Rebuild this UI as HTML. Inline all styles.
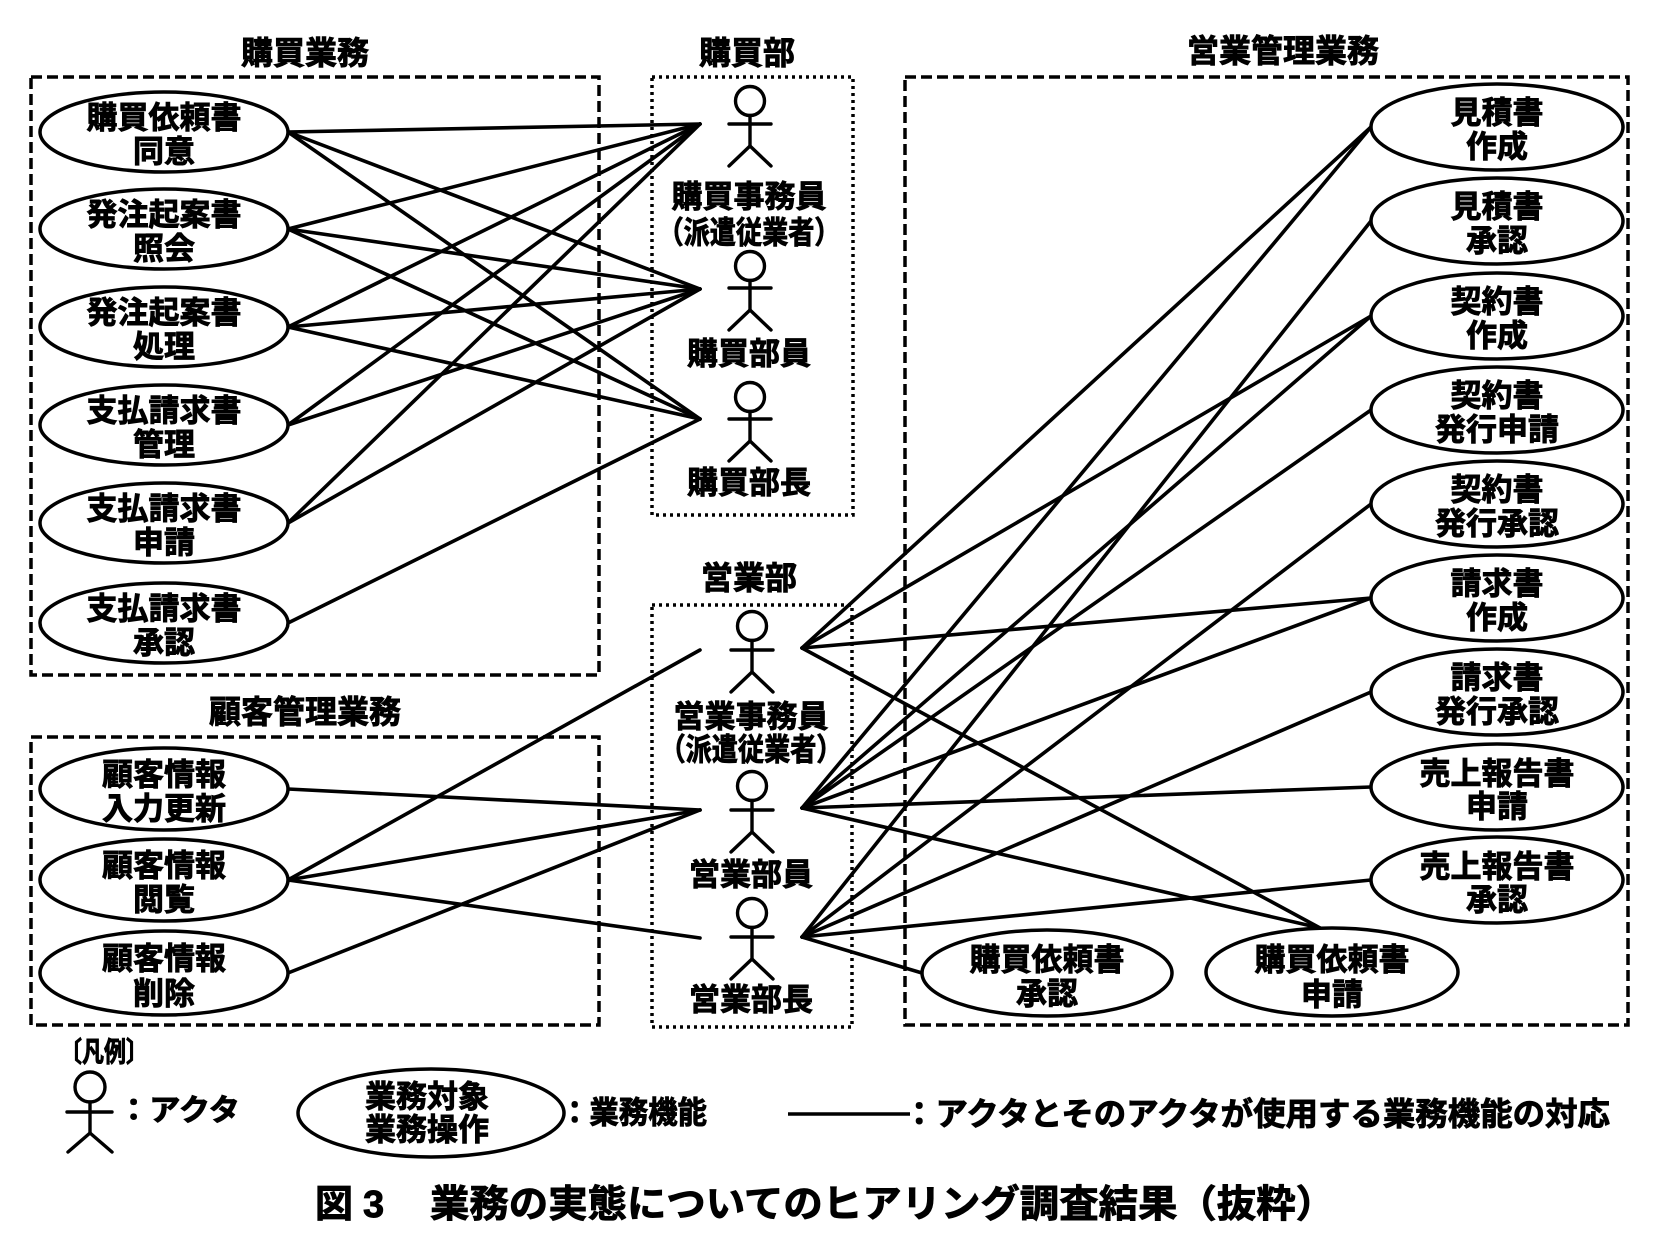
<!DOCTYPE html>
<html>
<head>
<meta charset="utf-8">
<style>
html,body{margin:0;padding:0;background:#fff;}
svg{display:block;}
text{font-family:"Liberation Sans","Noto Sans CJK JP",sans-serif;font-weight:700;fill:#000;stroke:#000;stroke-width:0.9;}
</style>
</head>
<body>
<svg width="1662" height="1260" viewBox="0 0 1662 1260" xmlns="http://www.w3.org/2000/svg">
<rect x="0" y="0" width="1662" height="1260" fill="#fff"/>

<!-- group boxes -->
<g fill="none" stroke="#000" stroke-width="3.5">
  <rect x="31" y="77" width="568" height="598" stroke-dasharray="11 5"/>
  <rect x="31" y="737" width="568" height="288" stroke-dasharray="11 5"/>
  <rect x="905" y="77" width="723" height="948" stroke-dasharray="11 5"/>
  <rect x="652" y="77" width="201" height="438" stroke-dasharray="3 4"/>
  <rect x="652" y="605" width="200" height="422" stroke-dasharray="3 4"/>
</g>

<!-- titles -->
<g font-size="32" text-anchor="middle" dominant-baseline="central">
  <text x="305" y="53">購買業務</text>
  <text x="747" y="53">購買部</text>
  <text x="1283" y="51">営業管理業務</text>
  <text x="305" y="712">顧客管理業務</text>
  <text x="749" y="578">営業部</text>
</g>

<!-- connector lines -->
<g stroke="#000" stroke-width="3.6" fill="none" stroke-linecap="round">
  <!-- purchase business -->
  <line x1="288" y1="132" x2="700" y2="124"/>
  <line x1="288" y1="132" x2="700" y2="289"/>
  <line x1="288" y1="132" x2="700" y2="419"/>
  <line x1="288" y1="229" x2="700" y2="124"/>
  <line x1="288" y1="229" x2="700" y2="289"/>
  <line x1="288" y1="229" x2="700" y2="419"/>
  <line x1="288" y1="327" x2="700" y2="124"/>
  <line x1="288" y1="327" x2="700" y2="289"/>
  <line x1="288" y1="327" x2="700" y2="419"/>
  <line x1="288" y1="425" x2="700" y2="124"/>
  <line x1="288" y1="425" x2="700" y2="289"/>
  <line x1="288" y1="523" x2="700" y2="124"/>
  <line x1="288" y1="523" x2="700" y2="289"/>
  <line x1="288" y1="623" x2="700" y2="419"/>
  <!-- customer -->
  <line x1="288" y1="789" x2="700" y2="810"/>
  <line x1="288" y1="880" x2="700" y2="650"/>
  <line x1="288" y1="880" x2="700" y2="810"/>
  <line x1="288" y1="880" x2="700" y2="938"/>
  <line x1="288" y1="973" x2="700" y2="810"/>
  <!-- sales: actor4 -->
  <line x1="802" y1="648" x2="1371" y2="127"/>
  <line x1="802" y1="648" x2="1371" y2="316"/>
  <line x1="802" y1="648" x2="1371" y2="598"/>
  <line x1="802" y1="648" x2="1320" y2="928"/>
  <!-- sales: actor5 -->
  <line x1="802" y1="808" x2="1371" y2="127"/>
  <line x1="802" y1="808" x2="1371" y2="316"/>
  <line x1="802" y1="808" x2="1371" y2="410"/>
  <line x1="802" y1="808" x2="1371" y2="598"/>
  <line x1="802" y1="808" x2="1371" y2="787"/>
  <line x1="802" y1="808" x2="1320" y2="928"/>
  <!-- sales: actor6 -->
  <line x1="802" y1="937" x2="1371" y2="221"/>
  <line x1="802" y1="937" x2="1371" y2="504"/>
  <line x1="802" y1="937" x2="1371" y2="692"/>
  <line x1="802" y1="937" x2="1371" y2="880"/>
  <line x1="802" y1="937" x2="922" y2="973"/>
</g>

<!-- ellipses -->
<g fill="#fff" stroke="#000" stroke-width="3.5">
  <ellipse cx="164" cy="132" rx="124" ry="40"/>
  <ellipse cx="164" cy="229" rx="124" ry="40"/>
  <ellipse cx="164" cy="327" rx="124" ry="40"/>
  <ellipse cx="164" cy="425" rx="124" ry="40"/>
  <ellipse cx="164" cy="523" rx="124" ry="40"/>
  <ellipse cx="164" cy="623" rx="124" ry="40"/>

  <ellipse cx="164" cy="789" rx="124" ry="41"/>
  <ellipse cx="164" cy="880" rx="124" ry="41"/>
  <ellipse cx="164" cy="973" rx="124" ry="42"/>

  <ellipse cx="1497" cy="127" rx="126" ry="43"/>
  <ellipse cx="1497" cy="221" rx="126" ry="43"/>
  <ellipse cx="1497" cy="316" rx="126" ry="43"/>
  <ellipse cx="1497" cy="410" rx="126" ry="43"/>
  <ellipse cx="1497" cy="504" rx="126" ry="43"/>
  <ellipse cx="1497" cy="598" rx="126" ry="43"/>
  <ellipse cx="1497" cy="692" rx="126" ry="43"/>
  <ellipse cx="1497" cy="787" rx="126" ry="43"/>
  <ellipse cx="1497" cy="880" rx="126" ry="43"/>

  <ellipse cx="1047" cy="973" rx="125" ry="43"/>
  <ellipse cx="1332" cy="972" rx="126" ry="44"/>

  <ellipse cx="431" cy="1113" rx="133" ry="44"/>
</g>

<!-- ellipse texts -->
<g font-size="31" text-anchor="middle" dominant-baseline="central">
  <text x="164" y="118">購買依頼書</text><text x="164" y="152">同意</text>
  <text x="164" y="215">発注起案書</text><text x="164" y="249">照会</text>
  <text x="164" y="313">発注起案書</text><text x="164" y="347">処理</text>
  <text x="164" y="411">支払請求書</text><text x="164" y="445">管理</text>
  <text x="164" y="509">支払請求書</text><text x="164" y="543">申請</text>
  <text x="164" y="609">支払請求書</text><text x="164" y="643">承認</text>

  <text x="164" y="775">顧客情報</text><text x="164" y="809">入力更新</text>
  <text x="164" y="866">顧客情報</text><text x="164" y="900">閲覧</text>
  <text x="164" y="959">顧客情報</text><text x="164" y="994">削除</text>

  <text x="1497" y="113">見積書</text><text x="1497" y="147">作成</text>
  <text x="1497" y="207">見積書</text><text x="1497" y="241">承認</text>
  <text x="1497" y="302">契約書</text><text x="1497" y="336">作成</text>
  <text x="1497" y="396">契約書</text><text x="1497" y="430">発行申請</text>
  <text x="1497" y="490">契約書</text><text x="1497" y="524">発行承認</text>
  <text x="1497" y="584">請求書</text><text x="1497" y="618">作成</text>
  <text x="1497" y="678">請求書</text><text x="1497" y="712">発行承認</text>
  <text x="1497" y="774">売上報告書</text><text x="1497" y="807">申請</text>
  <text x="1497" y="867">売上報告書</text><text x="1497" y="900">承認</text>

  <text x="1047" y="960">購買依頼書</text><text x="1047" y="994">承認</text>
  <text x="1332" y="960">購買依頼書</text><text x="1332" y="995">申請</text>
</g>

<!-- actors -->
<g stroke="#000" stroke-width="3.4" fill="none" stroke-linecap="round">
  <!-- purchase a1 -->
  <circle cx="750" cy="101" r="14.5" fill="#fff"/>
  <line x1="729" y1="124" x2="771" y2="124"/>
  <line x1="750" y1="115.5" x2="750" y2="146"/>
  <line x1="750" y1="146" x2="729" y2="166"/>
  <line x1="750" y1="146" x2="771" y2="166"/>
  <!-- a2 -->
  <circle cx="750" cy="266" r="14.5" fill="#fff"/>
  <line x1="729" y1="288" x2="771" y2="288"/>
  <line x1="750" y1="280.5" x2="750" y2="310"/>
  <line x1="750" y1="310" x2="729" y2="330"/>
  <line x1="750" y1="310" x2="771" y2="330"/>
  <!-- a3 -->
  <circle cx="750" cy="397" r="14.5" fill="#fff"/>
  <line x1="729" y1="419" x2="771" y2="419"/>
  <line x1="750" y1="411.5" x2="750" y2="441"/>
  <line x1="750" y1="441" x2="729" y2="461"/>
  <line x1="750" y1="441" x2="771" y2="461"/>
  <!-- sales a4 -->
  <circle cx="752" cy="626" r="14.5" fill="#fff"/>
  <line x1="731" y1="650" x2="773" y2="650"/>
  <line x1="752" y1="640.5" x2="752" y2="672"/>
  <line x1="752" y1="672" x2="731" y2="692"/>
  <line x1="752" y1="672" x2="773" y2="692"/>
  <!-- a5 -->
  <circle cx="752" cy="786" r="14.5" fill="#fff"/>
  <line x1="731" y1="810" x2="773" y2="810"/>
  <line x1="752" y1="800.5" x2="752" y2="832"/>
  <line x1="752" y1="832" x2="731" y2="852"/>
  <line x1="752" y1="832" x2="773" y2="852"/>
  <!-- a6 -->
  <circle cx="752" cy="913" r="14.5" fill="#fff"/>
  <line x1="731" y1="937" x2="773" y2="937"/>
  <line x1="752" y1="927.5" x2="752" y2="959"/>
  <line x1="752" y1="959" x2="731" y2="979"/>
  <line x1="752" y1="959" x2="773" y2="979"/>
  <!-- legend actor -->
  <circle cx="90" cy="1087" r="15" fill="#fff"/>
  <line x1="67" y1="1112" x2="112" y2="1112"/>
  <line x1="90" y1="1102" x2="90" y2="1133"/>
  <line x1="90" y1="1133" x2="68" y2="1152"/>
  <line x1="90" y1="1133" x2="112" y2="1152"/>
  <!-- legend line -->
  <line x1="788" y1="1114" x2="910" y2="1114" stroke-linecap="butt"/>
</g>

<!-- actor labels -->
<g font-size="31" text-anchor="middle" dominant-baseline="central">
  <text x="749" y="197">購買事務員</text>
  <text x="749" y="233" textLength="183" lengthAdjust="spacingAndGlyphs">（派遣従業者）</text>
  <text x="749" y="354">購買部員</text>
  <text x="749" y="483">購買部長</text>
  <text x="751" y="717">営業事務員</text>
  <text x="751" y="750" textLength="183" lengthAdjust="spacingAndGlyphs">（派遣従業者）</text>
  <text x="751" y="875">営業部員</text>
  <text x="751" y="1000">営業部長</text>
</g>

<!-- legend texts -->
<g dominant-baseline="central">
  <text x="60" y="1052" font-size="28" textLength="88" lengthAdjust="spacingAndGlyphs">〔凡例〕</text>
  <text x="118" y="1111" font-size="30" textLength="122" lengthAdjust="spacingAndGlyphs">：アクタ</text>
  <text x="427" y="1097" font-size="31" text-anchor="middle">業務対象</text>
  <text x="427" y="1130" font-size="31" text-anchor="middle">業務操作</text>
  <text x="560" y="1113" font-size="31" textLength="147" lengthAdjust="spacingAndGlyphs">：業務機能</text>
  <text x="903" y="1114" font-size="32" textLength="707" lengthAdjust="spacingAndGlyphs">：アクタとそのアクタが使用する業務機能の対応</text>
</g>

<!-- caption -->
<g dominant-baseline="central" font-size="38">
  <text x="315" y="1205">図</text>
  <text x="363" y="1205">3</text>
  <text x="430" y="1205" textLength="905" lengthAdjust="spacingAndGlyphs">業務の実態についてのヒアリング調査結果（抜粋）</text>
</g>
</svg>
</body>
</html>
